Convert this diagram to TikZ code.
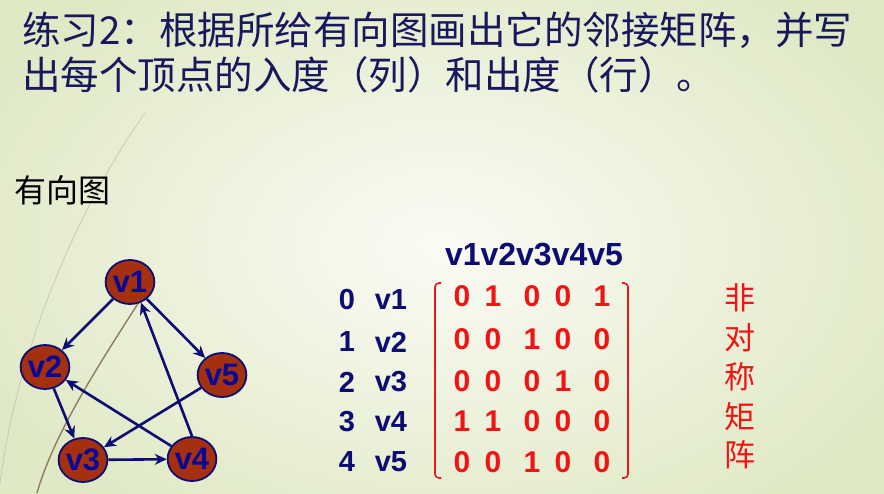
\documentclass[tikz,border=0pt]{standalone}
\usepackage{fontspec}
\setmainfont{Liberation Sans}
\newfontfamily\cjk{Noto Sans CJK SC}
\usetikzlibrary{arrows.meta,shapes.geometric}
\definecolor{navy}{RGB}{12,12,115}
\definecolor{titleblue}{RGB}{24,24,92}
\definecolor{nodefill}{RGB}{165,48,16}
\definecolor{nodetext}{RGB}{8,8,150}
\definecolor{matred}{RGB}{240,20,20}
\definecolor{bginner}{RGB}{250,251,244}
\definecolor{bgouter}{RGB}{224,233,198}
\definecolor{arcbrown}{RGB}{140,124,100}
\definecolor{arcgray}{RGB}{200,200,185}
\tikzset{
  vert/.style={ellipse,draw=navy,line width=1.8pt,fill=nodefill,minimum width=48pt,minimum height=44pt,inner sep=0pt,text=nodetext,font=\fontsize{31}{31}\selectfont\bfseries},
  edge/.style={draw=navy,line width=2.6pt,-{Stealth[length=12pt,width=11pt]}},
  titletext/.style={anchor=west,inner sep=0pt,text=titleblue,font=\cjk\fontsize{38.5}{38.5}\selectfont},
  lbl/.style={inner sep=0pt,text=navy,font=\fontsize{29}{29}\selectfont\bfseries},
  ent/.style={inner sep=0pt,text=matred,font=\fontsize{30}{30}\selectfont\bfseries},
  side/.style={inner sep=0pt,text=matred,font=\cjk\fontsize{31}{31}\selectfont},
  brk/.style={draw=matred,line width=1.6pt,rounded corners=4pt}
}
\begin{document}
\begin{tikzpicture}[x=1pt,y=-1pt]
\useasboundingbox (0,0) rectangle (884,493);
\shade[inner color=bginner,outer color=bgouter] (-60,-80) rectangle (944,573);
% decorative arcs
\draw[arcgray,line width=0.8pt] (145,113) .. controls (90,190) and (20,330) .. (0,483);
\draw[arcbrown,line width=1.4pt] (150,285) .. controls (105,355) and (55,430) .. (37,493);
% title
\node[titletext] (t1) at (22,30) {练习2：根据所给有向图画出它的邻接矩阵，并写};
\node[titletext] (t2) at (22,75) {出每个顶点的入度（列）和出度（行）。};
\node[anchor=west,inner sep=0pt,font=\cjk\fontsize{32}{32}\selectfont] (yxt) at (14,190) {有向图};
% graph
\node[vert] (v1) at (130,282) {v1};
\node[vert] (v2) at (45,367) {v2};
\node[vert] (v5) at (222,375) {v5};
\node[vert] (v3) at (83,460) {v3};
\node[vert] (v4) at (192,459) {v4};
\draw[edge] (v1) -- (v2);
\draw[edge] (v1) -- (v5);
\draw[edge] (v2) -- (v3);
\draw[edge] (v5) -- (v3);
\draw[edge] (v4) -- (v2);
\draw[edge] (v3) -- (v4);
\draw[edge] (v4.north) -- (v1.-62);
% matrix header
\node[inner sep=0pt,text=navy,font=\fontsize{32}{32}\selectfont\bfseries] (hdr) at (534,255) {v1v2v3v4v5};
% row labels
\foreach \i/\y in {0/300,1/342,2/382,3/422,4/462}{
  \node[lbl] (n\i) at (347,\y) {\i};
}
\foreach \i/\y in {1/300,2/342,3/382,4/422,5/462}{
  \node[lbl] (r\i) at (391,\y) {v\i};
}
% brackets
\coordinate (lbt) at (441,283);
\coordinate (lbb) at (441,478);
\coordinate (rbt) at (622,283);
\coordinate (rbb) at (622,478);
\draw[brk] (lbt) -- (435,283) -- (435,478) -- (lbb);
\draw[brk] (rbt) -- (628,283) -- (628,478) -- (rbb);
% entries
\foreach \r/\y/\a/\b/\c/\d/\e in {1/296/0/1/0/0/1,2/339/0/0/1/0/0,3/381/0/0/0/1/0,4/421/1/1/0/0/0,5/462/0/0/1/0/0}{
  \node[ent] (m\r a) at (462,\y) {\a};
  \node[ent] (m\r b) at (493,\y) {\b};
  \node[ent] (m\r c) at (532,\y) {\c};
  \node[ent] (m\r d) at (563,\y) {\d};
  \node[ent] (m\r e) at (602,\y) {\e};
}
% side text
\node[side] (s1) at (740,298) {非};
\node[side] (s2) at (740,338) {对};
\node[side] (s3) at (740,377) {称};
\node[side] (s4) at (740,417) {矩};
\node[side] (s5) at (740,455) {阵};
\end{tikzpicture}
\end{document}
